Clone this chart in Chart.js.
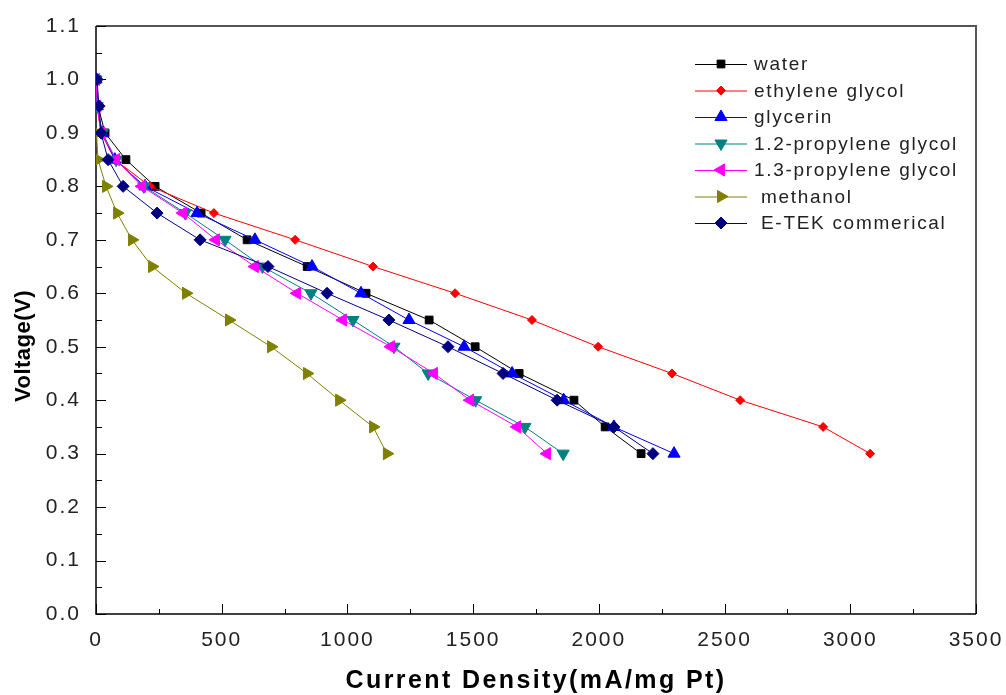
<!DOCTYPE html>
<html>
<head>
<meta charset="utf-8">
<script src="https://cdn.jsdelivr.net/npm/chart.js@4.4.1/dist/chart.umd.min.js"></script>
<style>
html,body{margin:0;padding:0;background:#fff;}
canvas{display:block;}
</style>
</head>
<body>
<canvas id="c" width="1006" height="695"></canvas>
<script>
// ---------------- data ----------------
const seriesNames = ['water', 'ethylene glycol', 'glycerin', '1.2-propylene glycol', '1.3-propylene glycol', ' methanol', ' E-TEK commerical'];
const xTitle = 'Current Density(mA/mg Pt)';
const yTitle = 'Voltage(V)';

const voltageFull = [1.0, 0.95, 0.9, 0.85, 0.8, 0.75, 0.7, 0.65, 0.6, 0.55, 0.5, 0.45, 0.4, 0.35, 0.3];
const voltageMethanol = [0.9, 0.85, 0.8, 0.75, 0.7, 0.65, 0.6, 0.55, 0.5, 0.45, 0.4, 0.35, 0.3];

const waterI     = [2, 8, 36, 119, 235, 418, 601, 840, 1074, 1325, 1508, 1683, 1901, 2025, 2168];
const ethyleneI  = [0, 4, 20, 75, 215, 469, 792, 1102, 1428, 1734, 1997, 2291, 2562, 2892, 3079];
const glycerinI  = [0, 5, 25, 75, 195, 402, 632, 859, 1054, 1245, 1464, 1655, 1860, 2060, 2299];
const prop12I    = [0, 5, 25, 80, 190, 355, 513, 662, 855, 1022, 1185, 1321, 1510, 1706, 1858];
const prop13I    = [0, 5, 20, 80, 183, 346, 477, 632, 800, 982, 1173, 1344, 1488, 1675, 1794];
const methanolI  = [2, 8, 40, 84, 143, 223, 358, 529, 696, 839, 967, 1102, 1157];
const etekI      = [4, 12, 20, 48, 108, 243, 414, 684, 919, 1165, 1400, 1619, 1834, 2060, 2215];

const xMin = 0, xMax = 3500, xStep = 500;
const yMin = 0, yMax = 1.1, yStep = 0.1;

// ---------------- styles ----------------
const styles = [
  {color:'#000000', pointStyle:'rect',     rotation:0,   radius:5.5},
  {color:'#ff0000', pointStyle:'rectRot',  rotation:0,   radius:4.5},
  {color:'#0000ff', pointStyle:'triangle', rotation:0,   radius:7},
  {color:'#008080', pointStyle:'triangle', rotation:180, radius:7},
  {color:'#ff00ff', pointStyle:'triangle', rotation:270, radius:7},
  {color:'#808000', pointStyle:'triangle', rotation:90,  radius:7},
  {color:'#000080', pointStyle:'rectRot',  rotation:0,   radius:6}
];

function pts(xs, ys){ return xs.map((v,i)=>({x:v, y:ys[i]})); }
const seriesData = [
  pts(waterI, voltageFull),
  pts(ethyleneI, voltageFull),
  pts(glycerinI, voltageFull),
  pts(prop12I, voltageFull),
  pts(prop13I, voltageFull),
  pts(methanolI, voltageMethanol),
  pts(etekI, voltageFull)
];

const datasets = seriesNames.map((n,i)=>({
  label:n,
  data:seriesData[i],
  borderColor:styles[i].color,
  backgroundColor:styles[i].color,
  pointBackgroundColor:styles[i].color,
  pointBorderColor:styles[i].color,
  pointStyle:styles[i].pointStyle,
  pointRotation:styles[i].rotation,
  pointRadius:styles[i].radius,
  pointBorderWidth:1,
  borderWidth:1,
  tension:0,
  showLine:true,
  fill:false,
  order: seriesNames.length - 1 - i
}));

const FONT = '"Liberation Sans", Arial, sans-serif';

const decor = {
  id:'decor',
  beforeDraw(chart){ chart.ctx.letterSpacing = '2px'; },
  beforeDatasetsDraw(chart){
    const ctx = chart.ctx, a = chart.chartArea, xs = chart.scales.x, ys = chart.scales.y;
    ctx.save();
    ctx.lineWidth = 2; ctx.strokeStyle = '#555';
    ctx.beginPath(); ctx.moveTo(a.left, a.top); ctx.lineTo(a.right, a.top); ctx.lineTo(a.right, a.bottom); ctx.stroke();
    ctx.lineWidth = 1.5; ctx.strokeStyle = '#000';
    ctx.beginPath(); ctx.moveTo(a.left, a.top); ctx.lineTo(a.left, a.bottom); ctx.lineTo(a.right, a.bottom); ctx.stroke();
    ctx.lineWidth = 1;
    const xt = xs.ticks.map(t=>t.value);
    ctx.beginPath();
    for (let i=0;i<xt.length;i++){
      const px = Math.round(xs.getPixelForValue(xt[i])) + 0.5;
      ctx.moveTo(px, a.bottom); ctx.lineTo(px, a.bottom - 10);
      if (i < xt.length-1){
        const pm = Math.round(xs.getPixelForValue((xt[i]+xt[i+1])/2)) + 0.5;
        ctx.moveTo(pm, a.bottom); ctx.lineTo(pm, a.bottom - 5);
      }
    }
    const yt = ys.ticks.map(t=>t.value);
    for (let i=0;i<yt.length;i++){
      const py = Math.round(ys.getPixelForValue(yt[i])) + 0.5;
      ctx.moveTo(a.left, py); ctx.lineTo(a.left + 10, py);
      if (i < yt.length-1){
        const pm = Math.round(ys.getPixelForValue((yt[i]+yt[i+1])/2)) + 0.5;
        ctx.moveTo(a.left, pm); ctx.lineTo(a.left + 6, pm);
      }
    }
    ctx.stroke();
    ctx.restore();
  },
  afterDraw(chart){
    const ctx = chart.ctx, a = chart.chartArea;
    ctx.save();
    ctx.fillStyle = '#000';
    ctx.letterSpacing = '2.4px';
    ctx.font = 'bold 25px ' + FONT;
    ctx.textAlign = 'center'; ctx.textBaseline = 'alphabetic';
    ctx.fillText(xTitle, (a.left + a.right)/2, 688);
    ctx.save();
    ctx.translate(30, 346);
    ctx.rotate(-Math.PI/2);
    ctx.letterSpacing = '0.5px';
    ctx.font = 'bold 22px ' + FONT;
    ctx.fillText(yTitle, 0, 0);
    ctx.restore();
    const rowY0 = 64, rowH = 26.5, lx0 = 695, lx1 = 747, mx = 721, tx = 754;
    ctx.font = '19px ' + FONT;
    ctx.letterSpacing = '1.7px';
    ctx.textAlign = 'left'; ctx.textBaseline = 'middle';
    chart.data.datasets.forEach((ds, i)=>{
      const y = rowY0 + i*rowH;
      ctx.strokeStyle = ds.borderColor; ctx.lineWidth = 1;
      ctx.beginPath(); ctx.moveTo(lx0, y+0.5); ctx.lineTo(lx1, y+0.5); ctx.stroke();
      ctx.fillStyle = ds.pointBackgroundColor; ctx.strokeStyle = ds.pointBorderColor;
      if (Chart.helpers && Chart.helpers.drawPoint){
        Chart.helpers.drawPoint(ctx, {pointStyle:ds.pointStyle, rotation:ds.pointRotation, radius:ds.pointRadius, borderWidth:1}, mx, y);
      }
      ctx.fillStyle = '#222';
      ctx.fillText(ds.label, tx, y+1);
    });
    ctx.restore();
  }
};

new Chart(document.getElementById('c'), {
  type:'scatter',
  data:{datasets},
  options:{
    responsive:false,
    devicePixelRatio:1,
    animation:false,
    layout:{padding:{top:26, right:30, left:0, bottom:0}},
    plugins:{legend:{display:false}, tooltip:{enabled:false}},
    scales:{
      x:{
        type:'linear', min:xMin, max:xMax,
        grid:{display:false, drawTicks:false},
        border:{display:false},
        ticks:{stepSize:xStep, padding:14, color:'#222', font:{family:FONT, size:21}, maxRotation:0, callback:(v)=>String(Math.round(v))},
        afterFit(s){ s.height = 81; s.paddingLeft = 0; s.paddingRight = 0; }
      },
      y:{
        type:'linear', min:yMin, max:yMax,
        grid:{display:false, drawTicks:false},
        border:{display:false},
        ticks:{stepSize:yStep, padding:15, color:'#222', font:{family:FONT, size:21}, callback:(v)=>Number(v).toFixed(1)},
        afterFit(s){ s.width = 96; s.paddingTop = 0; s.paddingBottom = 0; }
      }
    }
  },
  plugins:[decor]
});
</script>
</body>
</html>
